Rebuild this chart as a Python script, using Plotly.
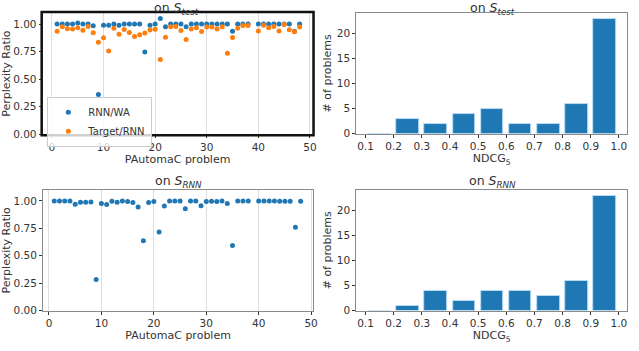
import plotly.graph_objects as go

# ---------------- data ----------------
problems = [i for i in range(1, 49) if i != 39]

test_rnn_wa = [1.00, 1.00, 1.00, 1.00, 1.01, 1.00, 1.00, 0.985, 0.36, 0.99,
               0.99, 1.00, 0.99, 1.00, 1.00, 1.00, 1.00, 0.746, 0.99, 1.00,
               1.05, 0.975, 1.00, 1.00, 1.00, 0.975, 1.00, 1.00, 1.00, 1.00,
               1.00, 1.00, 1.00, 1.00, 0.934, 1.00, 1.00, 1.00,
               1.00, 1.00, 1.00, 1.00, 1.00, 1.00, 1.00, 0.935, 1.00]
test_target_rnn = [0.934, 0.976, 0.958, 0.955, 0.967, 0.943, 0.979, 0.922, 0.835, 0.875,
                   0.755, 0.962, 0.908, 0.95, 0.923, 0.888, 0.904, 0.92, 0.946, 0.953,
                   0.679, 0.88, 0.975, 0.977, 0.942, 0.859, 0.955, 0.967, 0.933, 0.973,
                   0.973, 0.956, 0.975, 0.735, 0.878, 0.962, 0.988, 0.988,
                   0.937, 0.99, 0.967, 0.979, 0.937, 0.996, 0.949, 0.931, 0.973]

rnn_rnn_wa = [1.00, 1.00, 1.00, 1.00, 0.97, 0.988, 0.988, 0.99, 0.284, 0.976,
              0.967, 0.997, 0.988, 1.00, 0.994, 0.985, 0.946, 0.636, 0.985, 0.994,
              0.716, 0.955, 1.00, 1.00, 1.00, 0.93, 1.00, 1.00, 0.957, 0.994,
              0.997, 0.994, 1.00, 0.976, 0.594, 1.00, 1.00, 1.00,
              1.00, 1.00, 1.00, 1.00, 0.997, 0.997, 0.997, 0.76, 0.997]

bin_centers = [0.15, 0.25, 0.35, 0.45, 0.55, 0.65, 0.75, 0.85, 0.95]
hist_test = [0, 3, 2, 4, 5, 2, 2, 6, 23]
hist_rnn = [0, 1, 4, 2, 4, 4, 3, 6, 23]
hist_ticks = [0.1, 0.2, 0.3, 0.4, 0.5, 0.6, 0.7, 0.8, 0.9, 1.0]
hist_ticktext = ["0.1", "0.2", "0.3", "0.4", "0.5", "0.6", "0.7", "0.8", "0.9", "1.0"]

BLUE = "#1f77b4"
ORANGE = "#ff7f0e"
TXT = "#333333"
FONT = "DejaVu Sans"
W, H = 639, 351

fig = go.Figure()

fig.add_trace(go.Scatter(x=problems, y=test_rnn_wa, mode="markers", name="RNN/WA",
                         marker=dict(color=BLUE, size=5), xaxis="x", yaxis="y"))
fig.add_trace(go.Scatter(x=problems, y=test_target_rnn, mode="markers", name="Target/RNN",
                         marker=dict(color=ORANGE, size=5), xaxis="x", yaxis="y"))
fig.add_trace(go.Bar(x=bin_centers, y=hist_test, width=0.08, showlegend=False,
                     marker=dict(color=BLUE, line=dict(color="#b8dcf5", width=1)),
                     xaxis="x2", yaxis="y2"))
fig.add_trace(go.Scatter(x=problems, y=rnn_rnn_wa, mode="markers", showlegend=False,
                         marker=dict(color=BLUE, size=5), xaxis="x3", yaxis="y3"))
fig.add_trace(go.Bar(x=bin_centers, y=hist_rnn, width=0.08, showlegend=False,
                     marker=dict(color=BLUE, line=dict(color="#b8dcf5", width=1)),
                     xaxis="x4", yaxis="y4"))


def px(v):
    return v / W


def py(v):
    return 1 - v / H


tickfont = dict(family=FONT, size=10.5, color=TXT)
titlefont = dict(family=FONT, size=11, color=TXT)

common_ax = dict(showline=True, linecolor="#8a8a8a", linewidth=1, mirror=True,
                 ticks="outside", ticklen=3, tickcolor=TXT, tickfont=tickfont,
                 zeroline=False, fixedrange=True)

scatter_x = dict(common_ax, tickvals=[0, 10, 20, 30, 40, 50], showgrid=True,
                 gridcolor="#dedede", gridwidth=1,
                 title=dict(text="PAutomaC problem", font=titlefont, standoff=2))
scatter_y = dict(common_ax, range=[0, 1.1], tickvals=[0, 0.25, 0.5, 0.75, 1.0],
                 ticktext=["0.00", "0.25", "0.50", "0.75", "1.00"], showgrid=False,
                 title=dict(text="Perplexity Ratio", font=titlefont, standoff=4))
hist_x = dict(common_ax, range=[0.067, 1.03], tickvals=hist_ticks, ticktext=hist_ticktext,
              showgrid=False, title=dict(text="NDCG<sub>5</sub>", font=titlefont, standoff=2))
hist_y = dict(common_ax, range=[0, 24.15], tickvals=[0, 5, 10, 15, 20], showgrid=False,
              title=dict(text="# of problems", font=titlefont, standoff=2))

fig.update_layout(
    width=W, height=H, margin=dict(l=0, r=0, t=0, b=0),
    paper_bgcolor="white", plot_bgcolor="white",
    font=dict(family=FONT, color=TXT),
    bargap=0,
    xaxis=dict(scatter_x, domain=[px(43), px(315)], range=[-1.8, 50.5], anchor="y"),
    yaxis=dict(scatter_y, domain=[py(136.5), py(13.3)], anchor="x"),
    xaxis2=dict(hist_x, domain=[px(359), px(632.3)], anchor="y2"),
    yaxis2=dict(hist_y, domain=[py(136), py(13.3)], anchor="x2"),
    xaxis3=dict(scatter_x, domain=[px(43.3), px(315.7)], range=[-1.15, 50.4], anchor="y3"),
    yaxis3=dict(scatter_y, domain=[py(316), py(193.3)], anchor="x3"),
    xaxis4=dict(hist_x, domain=[px(359), px(632.3)], anchor="y4"),
    yaxis4=dict(hist_y, domain=[py(316), py(193.3)], anchor="x4"),
    legend=dict(x=px(47.7), y=py(98.5), xanchor="left", yanchor="top",
                bgcolor="rgba(255,255,255,0.8)", bordercolor="#cccccc", borderwidth=1,
                font=dict(family=FONT, size=10, color=TXT), itemwidth=30,
                tracegroupgap=0),
    showlegend=True,
)

fig.add_shape(type="rect", xref="paper", yref="paper",
              x0=px(42), x1=px(316), y0=py(137.5), y1=py(12.3),
              line=dict(color="#111111", width=2.5), fillcolor="rgba(0,0,0,0)")

titles = [
    (px(178), py(-1.5), "on <i>S</i><sub><i>test</i></sub>"),
    (px(496), py(-1.5), "on <i>S</i><sub><i>test</i></sub>"),
    (px(179.5), py(175), "on <i>S</i><sub><i>RNN</i></sub>"),
    (px(496), py(175), "on <i>S</i><sub><i>RNN</i></sub>"),
]
for x, y, t in titles:
    fig.add_annotation(x=x, y=y, xref="paper", yref="paper", text=t, showarrow=False,
                       xanchor="center", yanchor="top", borderpad=0,
                       font=dict(family=FONT, size=12.5, color=TXT))

fig.write_html("out.html")
